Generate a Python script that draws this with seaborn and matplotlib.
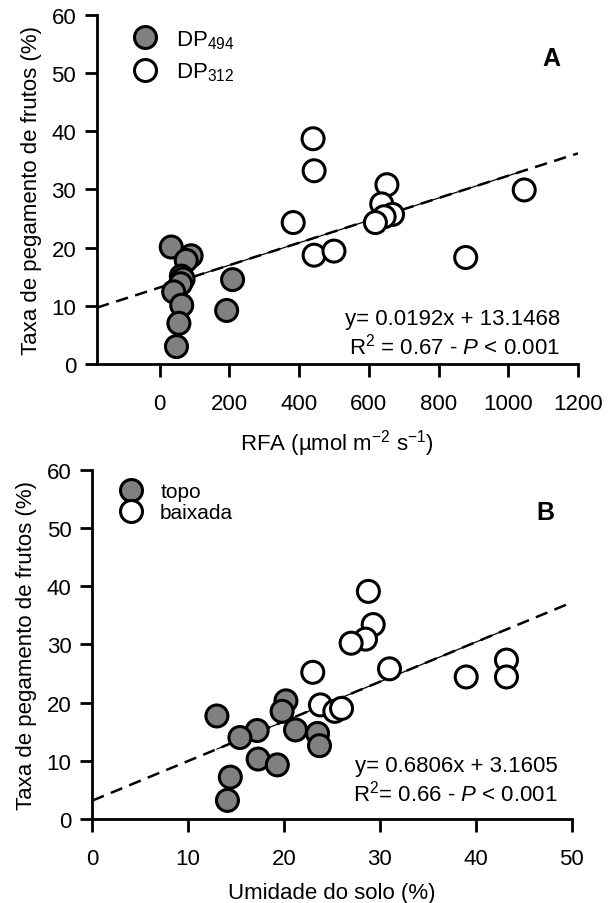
import matplotlib
matplotlib.use("Agg")
import matplotlib.pyplot as plt
import seaborn as sns
import pandas as pd
import numpy as np

# ---------------- data ----------------
# Panel A: RFA (umol m-2 s-1) vs fruit set (%)
a_dp494_x = [33, 90, 76, 62, 67, 60, 40, 63, 55, 48, 209, 192]
a_dp494_y = [20.1, 18.6, 17.8, 15.1, 14.6, 13.8, 12.4, 10.1, 7.0, 3.0, 14.5, 9.2]
a_dp312_x = [440, 443, 652, 637, 668, 644, 619, 383, 443, 500, 878, 1046]
a_dp312_y = [38.7, 33.2, 30.8, 27.5, 25.7, 25.3, 24.3, 24.3, 18.7, 19.4, 18.3, 29.9]

# Panel B: soil moisture (%) vs fruit set (%)
b_topo_x = [13.0, 20.2, 19.8, 21.2, 17.2, 15.4, 17.3, 19.3, 14.4, 14.1, 23.5, 23.7]
b_topo_y = [17.7, 20.3, 18.5, 15.3, 15.2, 14.0, 10.3, 9.3, 7.2, 3.2, 14.7, 12.6]
b_baixada_x = [28.8, 29.3, 28.5, 27.0, 43.2, 31.0, 23.0, 39.0, 43.2, 23.8, 25.3, 26.0]
b_baixada_y = [39.1, 33.4, 30.9, 30.2, 27.3, 25.8, 25.2, 24.4, 24.4, 19.6, 18.5, 19.0]

# regression coefficients (from annotations)
a_slope, a_intercept = 0.0192, 13.1468
b_slope, b_intercept = 0.6806, 3.1605

a_xticks = [0, 200, 400, 600, 800, 1000, 1200]
b_xticks = [0, 10, 20, 30, 40, 50]
yticks = [0, 10, 20, 30, 40, 50, 60]

# ---------------- style ----------------
sns.set_style("ticks")
plt.rcParams["font.family"] = ["Liberation Sans", "DejaVu Sans"]
plt.rcParams["mathtext.fontset"] = "custom"
plt.rcParams["mathtext.rm"] = "Liberation Sans"
plt.rcParams["mathtext.it"] = "Liberation Sans:italic"
plt.rcParams["mathtext.bf"] = "Liberation Sans:bold"
for k in ["text.color", "axes.labelcolor", "xtick.color", "ytick.color",
          "axes.edgecolor"]:
    plt.rcParams[k] = "black"

FS = 16
GRAY = "#808080"
MS = 250
EW = 2.2

fig = plt.figure(figsize=(6.11, 9.04), dpi=100)
axA = fig.add_axes([0.1588, 0.5962, 0.787, 0.3864])
axB = fig.add_axes([0.1510, 0.0929, 0.7846, 0.3864])

dfA = pd.DataFrame({
    "x": a_dp494_x + a_dp312_x,
    "y": a_dp494_y + a_dp312_y,
    "g": ["DP494"] * len(a_dp494_x) + ["DP312"] * len(a_dp312_x),
})
dfB = pd.DataFrame({
    "x": b_topo_x + b_baixada_x,
    "y": b_topo_y + b_baixada_y,
    "g": ["topo"] * len(b_topo_x) + ["baixada"] * len(b_baixada_x),
})


def style_axes(ax, xlim, xticks, xlabel):
    ax.set_xlim(*xlim)
    ax.set_ylim(0, 60)
    ax.set_xticks(xticks)
    ax.set_yticks(yticks)
    for s in ["top", "right"]:
        ax.spines[s].set_visible(False)
    for s in ["left", "bottom"]:
        ax.spines[s].set_linewidth(2.0)
    ax.tick_params(axis="both", direction="out", length=9, width=2.0,
                   labelsize=FS, colors="black")
    ax.tick_params(axis="x", pad=12)
    ax.tick_params(axis="y", pad=6)
    ax.set_xlabel(xlabel, fontsize=FS, labelpad=9)
    ax.set_ylabel("Taxa de pegamento de frutos (%)", fontsize=FS, labelpad=7)


def reg_line(ax, x0, x1, d0, d1, slope, intercept):
    xs = np.array([x0, x1])
    ax.plot(xs, slope * xs + intercept, color="black", lw=1.8,
            ls=(0, (5, 3)), zorder=1)
    xd = np.array([d0, d1])
    ax.plot(xd, slope * xd + intercept, color="black", lw=0.9, zorder=1)


# ---- Panel A ----
reg_line(axA, -180, 1200, 30, 1050, a_slope, a_intercept)
sns.scatterplot(data=dfA, x="x", y="y", hue="g",
                palette={"DP494": GRAY, "DP312": "white"},
                hue_order=["DP494", "DP312"],
                s=MS, edgecolor="black", linewidth=EW, ax=axA, zorder=3,
                clip_on=False)
style_axes(axA, (-180, 1200), a_xticks, r"RFA (µmol m$^{-2}$ s$^{-1}$)")
h, l = axA.get_legend_handles_labels()
axA.legend(h, [r"DP$_{\mathrm{494}}$", r"DP$_{\mathrm{312}}$"],
           loc="upper left", bbox_to_anchor=(0.035, 1.0), frameon=False,
           fontsize=FS, handletextpad=0.6, labelspacing=0.45,
           borderaxespad=0.2, handlelength=1.6)
axA.text(0.945, 0.875, "A", transform=axA.transAxes, fontsize=18,
         fontweight="bold", ha="center", va="center")
axA.text(0.963, 0.129, "y= 0.0192x + 13.1468", transform=axA.transAxes,
         fontsize=FS, ha="right", va="center")
axA.text(0.963, 0.052, r"R$^{2}$ = 0.67 - $\mathit{P}$ < 0.001",
         transform=axA.transAxes, fontsize=FS, ha="right", va="center")

# ---- Panel B ----
reg_line(axB, 0, 50, 13, 43.2, b_slope, b_intercept)
sns.scatterplot(data=dfB, x="x", y="y", hue="g",
                palette={"topo": GRAY, "baixada": "white"},
                hue_order=["topo", "baixada"],
                s=MS, edgecolor="black", linewidth=EW, ax=axB, zorder=3,
                clip_on=False)
style_axes(axB, (0, 50), b_xticks, "Umidade do solo (%)")
h, l = axB.get_legend_handles_labels()
axB.legend(h, ["topo", "baixada"],
           loc="upper left", bbox_to_anchor=(0.02, 1.0), frameon=False,
           fontsize=15, handletextpad=0.6, labelspacing=0.1,
           borderaxespad=0.2, handlelength=1.6)
axB.text(0.945, 0.88, "B", transform=axB.transAxes, fontsize=18,
         fontweight="bold", ha="center", va="center")
axB.text(0.97, 0.152, "y= 0.6806x + 3.1605", transform=axB.transAxes,
         fontsize=FS, ha="right", va="center")
axB.text(0.97, 0.077, r"R$^{2}$= 0.66 - $\mathit{P}$ < 0.001",
         transform=axB.transAxes, fontsize=FS, ha="right", va="center")

fig.savefig("out.png", dpi=100)
